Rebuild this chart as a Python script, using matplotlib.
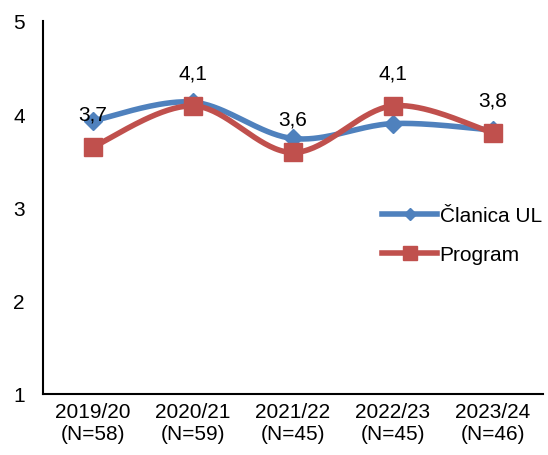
import numpy as np
import matplotlib
matplotlib.use("Agg")
import matplotlib.pyplot as plt

# Data
years = ["2019/20", "2020/21", "2021/22", "2022/23", "2023/24"]
counts = [58, 59, 45, 45, 46]
clanica = [3.93, 4.13, 3.74, 3.90, 3.83]
program = [3.65, 4.09, 3.59, 4.09, 3.80]
program_labels = ["3,7", "4,1", "3,6", "4,1", "3,8"]

BLUE = "#4F81BD"
RED = "#C0504D"


def smooth(y, n=40):
    """Excel-style smoothed line: cubic Bezier through points (Catmull-Rom)."""
    y = np.asarray(y, dtype=float)
    x = np.arange(len(y), dtype=float)
    xs, ys = [], []
    for i in range(len(y) - 1):
        x0, x1 = x[i], x[i + 1]
        y0, y1 = y[i], y[i + 1]
        xp = x[i - 1] if i > 0 else x0
        yp = y[i - 1] if i > 0 else y0
        xn = x[i + 2] if i + 2 < len(y) else x1
        yn = y[i + 2] if i + 2 < len(y) else y1
        c1 = (x0 + (x1 - xp) / 6, y0 + (y1 - yp) / 6)
        c2 = (x1 - (xn - x0) / 6, y1 - (yn - y0) / 6)
        t = np.linspace(0, 1, n)
        bx = (1 - t) ** 3 * x0 + 3 * (1 - t) ** 2 * t * c1[0] + 3 * (1 - t) * t ** 2 * c2[0] + t ** 3 * x1
        by = (1 - t) ** 3 * y0 + 3 * (1 - t) ** 2 * t * c1[1] + 3 * (1 - t) * t ** 2 * c2[1] + t ** 3 * y1
        xs.append(bx)
        ys.append(by)
    return np.concatenate(xs), np.concatenate(ys)


plt.rcParams["font.family"] = ["Liberation Sans", "DejaVu Sans"]
FS = 15

fig = plt.figure(figsize=(5.48, 4.56), dpi=100)
ax = fig.add_axes([43 / 548, 61 / 456, 500 / 548, 373 / 456])

x = np.arange(len(years))

sx, sy = smooth(clanica)
ax.plot(sx, sy, color=BLUE, linewidth=4, solid_capstyle="round", zorder=2)
ax.plot(x, clanica, linestyle="none", marker="D", markersize=9,
        color=BLUE, zorder=3)

sx, sy = smooth(program)
ax.plot(sx, sy, color=RED, linewidth=4, solid_capstyle="round", zorder=4)
ax.plot(x, program, linestyle="none", marker="s", markersize=13,
        color=RED, zorder=5)

for xi, yi, lab in zip(x, program, program_labels):
    ax.annotate(lab, (xi, yi), xytext=(0, 33), textcoords="offset pixels",
                ha="center", va="center", fontsize=FS, zorder=6)

# legend proxies
ax.plot([], [], color=BLUE, linewidth=4, marker="D", markersize=6, label="Članica UL")
ax.plot([], [], color=RED, linewidth=4, marker="s", markersize=10, label="Program")
ax.legend(loc="center left", bbox_to_anchor=(339 / 500, 0.5 * (0.480 + 0.373)),
          frameon=False, fontsize=FS, handlelength=2.65, handletextpad=0.12,
          labelspacing=0.95, borderaxespad=0, borderpad=0)

ax.set_xlim(-0.5, 4.5)
ax.set_ylim(1, 5)
ax.set_yticks([1, 2, 3, 4, 5])
ax.set_xticks(x)
ax.set_xticklabels([f"{y}\n(N={n})" for y, n in zip(years, counts)], fontsize=FS,
                   linespacing=1.15)
ax.tick_params(axis="both", length=0, labelsize=FS)
ax.tick_params(axis="x", pad=6)
ax.tick_params(axis="y", pad=13)
for s in ("top", "right"):
    ax.spines[s].set_visible(False)
ax.spines["left"].set_linewidth(1.5)
ax.spines["bottom"].set_linewidth(1.5)

fig.savefig("out.png", dpi=100)
